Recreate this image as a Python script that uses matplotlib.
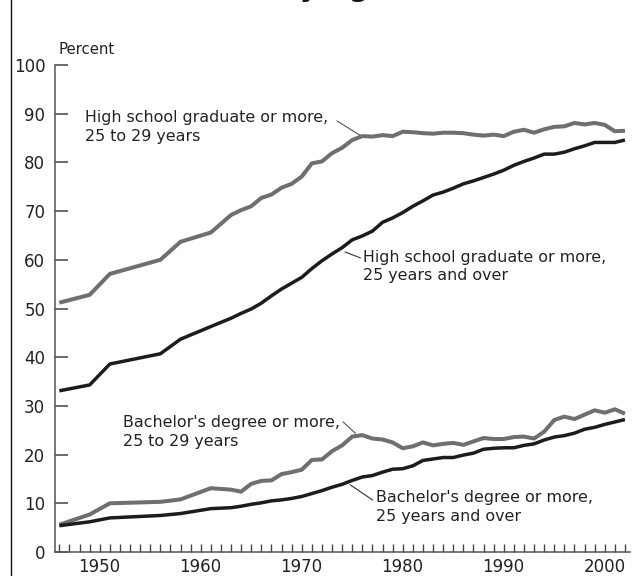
import matplotlib
matplotlib.use("Agg")
import matplotlib.pyplot as plt
from matplotlib.lines import Line2D
from matplotlib.ticker import MultipleLocator
from matplotlib.transforms import ScaledTranslation

years = [1947, 1950, 1952, 1957, 1959, 1962,
         1964, 1965, 1966, 1967, 1968, 1969,
         1970, 1971, 1972, 1973, 1974, 1975, 1976, 1977, 1978, 1979,
         1980, 1981, 1982, 1983, 1984, 1985, 1986, 1987, 1988, 1989,
         1990, 1991, 1992, 1993, 1994, 1995, 1996, 1997, 1998, 1999,
         2000, 2001, 2002, 2003]

hs_25_29 = [51.2, 52.8, 57.1, 60.0, 63.7, 65.6,
            69.2, 70.2, 71.0, 72.7, 73.4, 74.8,
            75.6, 77.1, 79.8, 80.2, 81.9, 83.0, 84.6, 85.4, 85.3, 85.6,
            85.4, 86.3, 86.2, 86.0, 85.9, 86.1, 86.1, 86.0, 85.7, 85.5,
            85.7, 85.4, 86.3, 86.7, 86.1, 86.8, 87.3, 87.4, 88.1, 87.8,
            88.1, 87.7, 86.4, 86.5]

hs_25_over = [33.1, 34.3, 38.6, 40.7, 43.7, 46.3,
              48.0, 49.0, 49.9, 51.1, 52.6, 54.0,
              55.2, 56.4, 58.2, 59.8, 61.2, 62.5, 64.1, 64.9, 65.9, 67.7,
              68.6, 69.7, 71.0, 72.1, 73.3, 73.9, 74.7, 75.6, 76.2, 76.9,
              77.6, 78.4, 79.4, 80.2, 80.9, 81.7, 81.7, 82.1, 82.8, 83.4,
              84.1, 84.1, 84.1, 84.6]

ba_25_29 = [5.6, 7.7, 10.0, 10.3, 10.8, 13.1,
            12.8, 12.4, 14.0, 14.6, 14.7, 16.0,
            16.4, 16.9, 18.9, 19.0, 20.7, 21.9, 23.7, 24.0, 23.3, 23.1,
            22.5, 21.3, 21.7, 22.5, 21.9, 22.2, 22.4, 22.0, 22.7, 23.4,
            23.2, 23.2, 23.6, 23.7, 23.3, 24.7, 27.1, 27.8, 27.3, 28.2,
            29.1, 28.6, 29.3, 28.4]

ba_25_over = [5.4, 6.2, 7.0, 7.5, 7.9, 8.9,
              9.1, 9.4, 9.8, 10.1, 10.5, 10.7,
              11.0, 11.4, 12.0, 12.6, 13.3, 13.9, 14.7, 15.4, 15.7, 16.4,
              17.0, 17.1, 17.7, 18.8, 19.1, 19.4, 19.4, 19.9, 20.3, 21.1,
              21.3, 21.4, 21.4, 21.9, 22.2, 23.0, 23.6, 23.9, 24.4, 25.2,
              25.6, 26.2, 26.7, 27.2]

label_hs_29 = "High school graduate or more,\n25 to 29 years"
label_hs_over = "High school graduate or more,\n25 years and over"
label_ba_29 = "Bachelor's degree or more,\n25 to 29 years"
label_ba_over = "Bachelor's degree or more,\n25 years and over"

GRAY = "#6f6f6f"
DARK = "#1c1c1c"
TEXT = "#222222"

plt.rcParams["font.family"] = ["DejaVu Sans"]

fig = plt.figure(figsize=(6.34, 5.76), dpi=100)
ax = fig.add_axes([55 / 634, 24 / 576, 575 / 634, 487 / 576])

ax.plot(years, hs_25_29, color=GRAY, lw=2.9, solid_capstyle="butt")
ax.plot(years, hs_25_over, color=DARK, lw=2.5, solid_capstyle="butt")
ax.plot(years, ba_25_29, color=GRAY, lw=2.9, solid_capstyle="butt")
ax.plot(years, ba_25_over, color=DARK, lw=2.5, solid_capstyle="butt")

ax.set_xlim(1946.57, 2003.5)
ax.set_ylim(0, 100)

for side in ("top", "right"):
    ax.spines[side].set_visible(False)
for side in ("left", "bottom"):
    ax.spines[side].set_color("#555555")
    ax.spines[side].set_linewidth(1.1)

ax.yaxis.set_major_locator(MultipleLocator(10))
ax.xaxis.set_major_locator(MultipleLocator(10))
ax.xaxis.set_minor_locator(MultipleLocator(1))
ax.tick_params(axis="y", direction="in", length=9, width=1.1, color="#444444",
               pad=7, labelsize=12, labelcolor=TEXT)
ax.tick_params(axis="x", which="both", direction="in", length=6, width=1.0,
               color="#444444", pad=4, labelsize=12, labelcolor=TEXT)

# year labels sit a little to the right of their ticks
shift = ScaledTranslation(0.1, 0, fig.dpi_scale_trans)
for lbl in ax.get_xticklabels():
    lbl.set_transform(lbl.get_transform() + shift)

fig.text(58 / 634, 1 - 50 / 576, "Percent", fontsize=10.7, color=TEXT,
         ha="left", va="center")

txt = dict(fontsize=11.4, color=TEXT, ha="left", va="center", linespacing=1.3)
ax.text(1949.55, 87.3, label_hs_29, **txt)
ax.text(1977.07, 58.6, label_hs_over, **txt)
ax.text(1953.3, 24.6, label_ba_29, **txt)
ax.text(1978.4, 9.2, label_ba_over, **txt)

# leader lines
ax.plot([1974.5, 1976.75], [88.5, 85.6], color="#555555", lw=0.8)
ax.plot([1975.3, 1976.8], [61.6, 60.4], color="#333333", lw=0.8)
ax.plot([1975.1, 1976.3], [26.7, 24.4], color="#555555", lw=0.8)
ax.plot([1975.8, 1978.0], [13.8, 10.7], color="#333333", lw=0.8)

# remains of the cropped title and the page frame
fig.text(280 / 634, 1 + 4 / 576, "by Age", fontsize=20, fontweight="bold",
         color="#111111", ha="left", va="baseline")
fig.add_artist(Line2D([11 / 634, 11 / 634], [0, 1], color="#111111", lw=1.0,
                      transform=fig.transFigure))

fig.savefig("out.png", dpi=100, facecolor="white")
